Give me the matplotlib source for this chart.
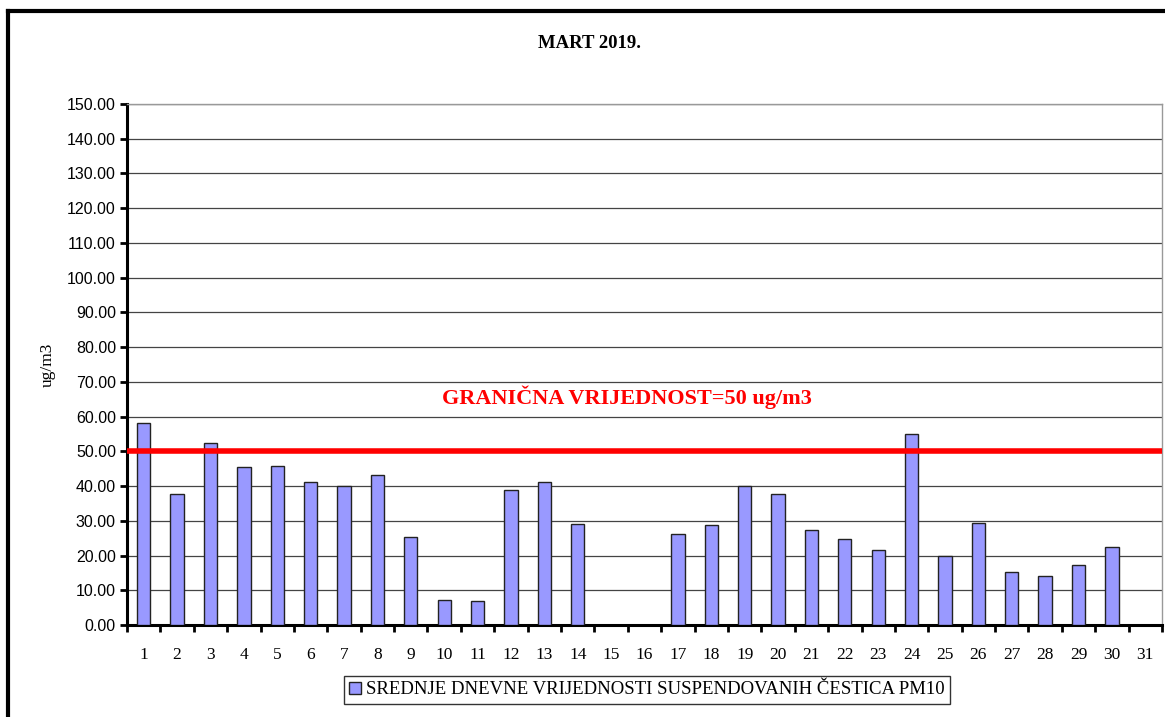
import numpy as np
import matplotlib.pyplot as plt
from matplotlib.lines import Line2D

days = list(range(1, 32))
pm10 = [58.3, 37.8, 52.5, 45.4, 45.8, 41.3, 39.9, 43.3, 25.3, 7.2, 6.9, 38.9, 41.3, 29.1,
        np.nan, np.nan, 26.3, 28.8, 39.9, 37.8, 27.4, 24.9, 21.5, 54.9, 19.8, 29.5,
        15.2, 14.2, 17.4, 22.6, np.nan]
limit = 50
y_ticks = np.arange(0, 151, 10)

serif = 'Liberation Serif'

fig = plt.figure(figsize=(11.65, 7.17), dpi=100)
ax = fig.add_axes([127 / 1165, 1 - 625 / 717, (1162 - 127) / 1165, (625 - 104) / 717])

# bars
x = np.arange(len(days))
ax.bar(x, pm10, width=0.4, color='#9999FF', edgecolor='#222222', linewidth=1.0, zorder=3,
       label='SREDNJE DNEVNE VRIJEDNOSTI SUSPENDOVANIH ČESTICA PM10')

# limit line and label
ax.axhline(limit, color='#FF0000', linewidth=4, zorder=4)
ax.text(14.47, 65.5, 'GRANIČNA VRIJEDNOST=50 ug/m3', color='#FF0000', fontsize=16,
        fontweight='bold', family=serif, ha='center', va='center')

# grid
for v in y_ticks[1:]:
    ax.axhline(v, color='#444444', linewidth=0.9, zorder=1)

ax.set_xlim(-0.5, len(days) - 0.5)
ax.set_ylim(0, 150)
ax.set_yticks(y_ticks)
ax.set_yticklabels([f'{v:.2f}' for v in y_ticks], family='Liberation Sans', fontsize=11.5)
ax.set_xticks(x)
ax.set_xticklabels([str(d) for d in days], family=serif, fontsize=12.5)
ax.set_xticks(np.arange(-0.5, len(days)), minor=True)
ax.tick_params(axis='x', which='major', length=0, pad=16)
ax.tick_params(axis='x', which='minor', length=5, width=2, direction='out')
ax.tick_params(axis='y', length=5, width=2, direction='out', pad=3)

for s in ['left', 'bottom']:
    ax.spines[s].set_linewidth(2.2)
    ax.spines[s].set_color('black')
ax.spines['right'].set_color('#999999')
ax.spines['right'].set_linewidth(1)
ax.spines['top'].set_color('#999999')
ax.spines['top'].set_linewidth(1)

ax.set_ylabel('ug/m3', family=serif, fontsize=12.5, labelpad=8)
fig.text(590 / 1165, 1 - 44 / 717, 'MART 2019.', family=serif, fontsize=13.5,
         fontweight='bold', ha='center', va='center')

leg = ax.legend(loc='center', bbox_to_anchor=(647 / 1165, 1 - 690 / 717),
                bbox_transform=fig.transFigure, prop={'family': serif, 'size': 13.5},
                frameon=True, fancybox=False, edgecolor='black', handlelength=0.6,
                handleheight=0.6, handletextpad=0.3, borderpad=0.3)
leg.get_frame().set_linewidth(1.0)

# outer chart frame
fig.add_artist(Line2D([8 / 1165, 1.0], [1 - 11 / 717, 1 - 11 / 717], color='black',
                      linewidth=3, transform=fig.transFigure))
fig.add_artist(Line2D([8 / 1165, 8 / 1165], [0.0, 1 - 11 / 717], color='black',
                      linewidth=3, transform=fig.transFigure))

fig.savefig('out.png', dpi=100)
